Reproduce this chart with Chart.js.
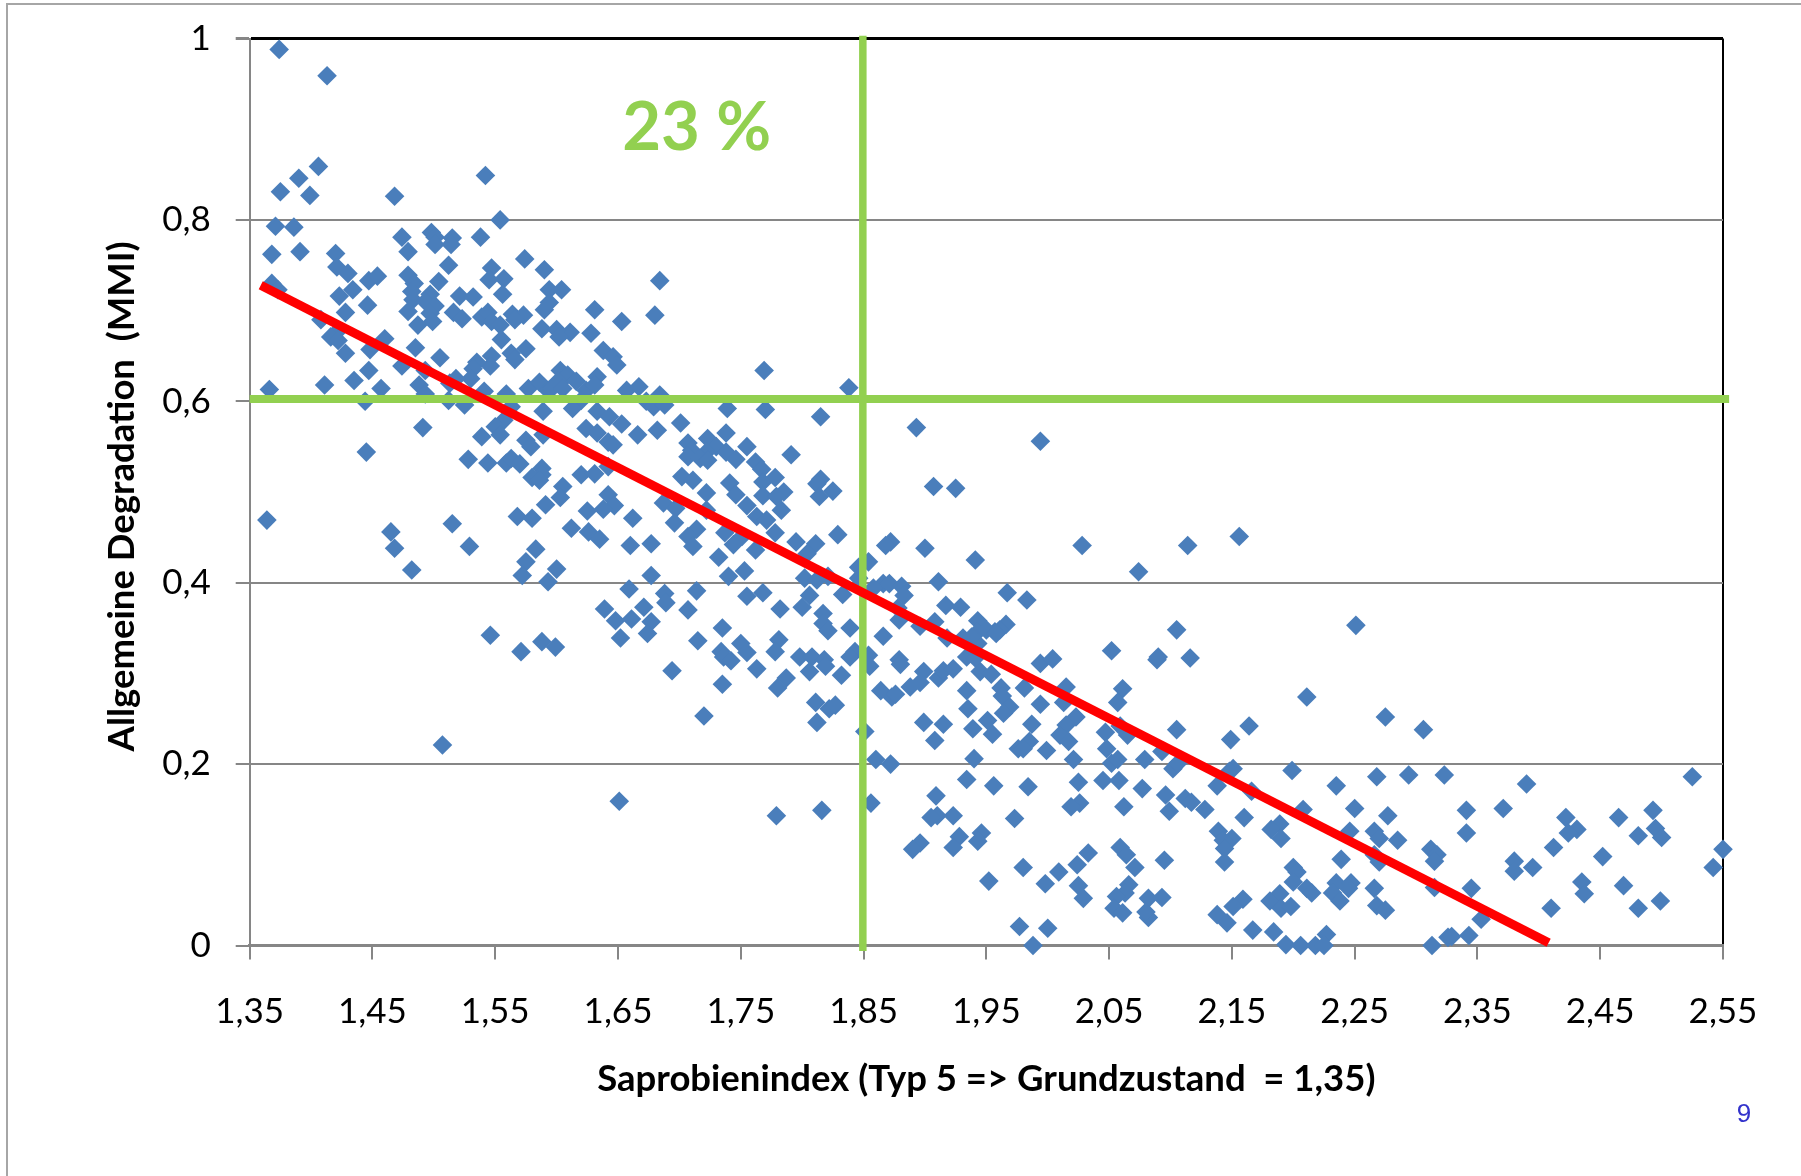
<!DOCTYPE html>
<html lang="de">
<head>
<meta charset="utf-8">
<title>Saprobienindex</title>
<script src="https://cdn.jsdelivr.net/npm/chart.js@4/dist/chart.umd.js"></script>
<style>
html,body{margin:0;padding:0;background:#fff;overflow:hidden}
#frame{position:absolute;left:6px;top:3px;width:1801px;height:1180px;border-left:2px solid #a6a6a6;border-top:2px solid #a6a6a6}
canvas{position:absolute;left:0;top:0}
</style>
</head>
<body>
<div id="frame"></div>
<canvas id="c" width="1801" height="1176"></canvas>
<script>
const xTickValues = [1.35,1.45,1.55,1.65,1.75,1.85,1.95,2.05,2.15,2.25,2.35,2.45,2.55];
const xTickLabels = ['1,35','1,45','1,55','1,65','1,75','1,85','1,95','2,05','2,15','2,25','2,35','2,45','2,55'];
const yTickValues = [0,0.2,0.4,0.6,0.8,1];
const yTickLabels = ['0','0,2','0,4','0,6','0,8','1'];
const xTitle = 'Saprobienindex (Typ 5 => Grundzustand  = 1,35)';
const yTitle = 'Allgemeine Degradation  (MMI) ';
const noteText = '23 %';
const noteX = 1.714, noteY = 0.901;
const pageNumber = '9';

const saprobien = [
1.374,1.413,1.406,1.390,1.375,1.399,1.542,1.468,1.554,1.371,
1.386,1.368,1.391,1.474,1.479,1.498,1.501,1.501,1.515,1.514,
1.538,1.420,1.421,1.430,1.447,1.454,1.434,1.423,1.446,1.428,
1.512,1.504,1.479,1.484,1.482,1.483,1.497,1.493,1.501,1.479,
1.497,1.487,1.499,1.521,1.532,1.516,1.523,1.539,1.544,1.547,
1.545,1.557,1.556,1.574,1.590,1.594,1.590,1.588,1.564,1.573,
1.566,1.547,1.554,1.555,1.563,1.575,1.566,1.547,1.546,1.535,
1.532,1.530,1.518,1.513,1.541,1.559,1.577,1.586,1.593,1.368,
1.373,1.408,1.420,1.416,1.422,1.460,1.448,1.428,1.485,1.505,
1.474,1.493,1.447,1.435,1.411,1.366,1.457,1.488,1.493,1.444,
1.512,1.525,1.563,1.589,1.557,1.550,1.554,1.539,1.491,1.445,
1.575,1.579,1.589,1.528,1.544,1.559,1.563,1.570,1.588,1.594,
1.604,1.684,1.631,1.653,1.680,1.628,1.611,1.600,1.602,1.638,
1.646,1.649,1.769,1.633,1.603,1.609,1.601,1.616,1.596,1.605,
1.624,1.631,1.657,1.667,1.684,1.673,1.679,1.688,1.739,1.770,
1.620,1.613,1.633,1.643,1.653,1.624,1.633,1.642,1.646,1.666,
1.682,1.701,1.738,1.755,1.791,1.707,1.710,1.723,1.730,1.722,
1.707,1.717,1.723,1.738,1.746,1.762,1.767,1.778,1.768,1.702,
1.711,1.741,1.746,1.722,1.755,1.768,1.785,1.779,1.783,1.763,
1.771,1.687,1.697,1.722,1.620,1.631,1.642,1.605,1.603,1.591,
1.642,1.647,1.638,1.625,1.588,1.580,1.568,1.580,1.662,1.586,
1.515,1.529,1.612,1.626,1.635,1.696,1.714,1.707,1.737,1.751,
1.744,1.711,1.660,1.677,1.583,1.575,1.600,1.572,1.593,1.732,
1.753,1.740,1.677,1.659,1.688,1.714,1.755,1.689,1.639,1.671,
1.707,1.648,1.661,1.677,1.652,1.674,1.735,1.715,1.750,1.546,
1.571,1.588,1.599,1.734,1.736,1.742,1.755,1.694,1.735,1.720,
1.838,1.815,1.893,1.815,1.812,1.825,1.814,1.907,1.925,1.778,
1.829,1.795,1.811,1.804,1.762,1.872,1.868,1.900,1.941,1.854,
1.846,1.846,1.802,1.812,1.821,1.911,1.866,1.858,1.871,1.881,
1.883,1.833,1.768,1.806,1.800,1.782,1.817,1.917,1.929,1.878,
1.879,1.908,1.896,1.943,1.943,1.817,1.821,1.839,1.781,1.866,
1.918,1.931,1.957,1.950,1.943,1.778,1.798,1.808,1.843,1.839,
1.854,1.818,1.934,1.879,
1.806,1.819,1.832,1.855,1.763,1.787,1.780,1.880,1.899,1.896,
1.911,1.915,1.923,1.945,1.954,1.888,1.864,1.873,1.876,1.934,
1.935,1.811,1.822,1.827,1.812,1.851,1.899,1.915,1.908,1.939,
1.951,1.955,1.860,1.872,1.940,1.934,1.956,1.909,1.856,1.816,
1.779,1.910,1.905,1.923,1.928,1.923,1.946,1.943,1.896,1.890,
1.952,
1.983,1.966,1.961,1.958,1.938,2.105,2.052,2.090,2.089,
2.116,1.994,2.004,1.941,1.981,2.015,1.962,1.963,2.061,2.057,
2.013,1.994,1.969,1.964,2.023,2.015,2.010,1.987,1.985,1.976,
1.980,1.999,2.017,2.047,2.048,2.065,2.059,2.105,2.093,2.021,
2.052,2.057,2.079,2.102,2.106,2.138,2.151,2.148,2.164,2.149,
2.166,1.984,2.025,2.045,2.058,2.077,2.096,2.112,2.117,2.128,
2.099,2.160,2.062,2.026,2.019,1.973,2.139,2.150,2.143,2.144,
2.144,2.059,2.064,2.033,2.024,2.071,2.095,1.980,2.009,1.998,
2.025,2.029,2.066,2.063,2.056,2.082,2.093,2.159,1.977,2.000,
1.988,2.054,2.061,2.082,2.080,
2.211,2.275,2.306,2.199,2.268,2.294,2.323,2.235,2.208,2.250,
2.277,2.189,2.182,2.190,2.246,2.266,2.270,2.285,2.239,2.266,
2.270,2.312,2.317,2.315,2.200,2.203,2.200,2.235,2.247,2.245,
2.211,2.215,2.232,2.238,2.266,2.268,2.275,2.315,2.189,2.181,
2.190,2.198,2.151,2.138,2.146,2.167,2.184,2.194,2.206,2.218,
2.227,2.225,2.313,2.326,
2.390,2.525,2.341,2.371,2.341,2.422,2.431,2.424,2.465,2.493,
2.495,2.481,2.500,2.412,2.452,2.550,2.542,2.380,2.380,2.395,
2.345,2.435,2.437,2.469,2.499,2.481,2.410,2.353,2.329,2.343,
1.507,1.651,1.364,1.465,1.468,1.482,1.994,2.028,2.074,2.114,
2.156,2.251,1.967
];

const degradation = [
.988,.959,.859,.846,.831,.827,.849,.826,.800,.793,
.792,.762,.765,.781,.765,.786,.781,.773,.780,.773,
.781,.763,.748,.741,.733,.738,.723,.716,.706,.698,
.750,.732,.739,.730,.721,.712,.718,.710,.705,.699,
.697,.684,.688,.716,.715,.698,.691,.693,.698,.747,
.734,.735,.718,.757,.745,.723,.701,.680,.696,.695,
.690,.688,.684,.668,.653,.658,.646,.650,.639,.643,
.636,.625,.625,.620,.611,.608,.614,.621,.612,.730,
.723,.690,.675,.671,.667,.669,.657,.653,.659,.648,
.639,.634,.634,.623,.618,.613,.614,.618,.608,.600,
.601,.596,.594,.589,.579,.572,.563,.561,.571,.544,
.557,.550,.563,.536,.532,.532,.537,.531,.526,.709,
.723,.733,.701,.688,.695,.675,.676,.679,.671,.656,
.649,.640,.634,.627,.634,.629,.622,.622,.614,.614,
.612,.618,.612,.616,.607,.600,.594,.596,.592,.591,
.601,.592,.589,.583,.575,.570,.565,.555,.552,.563,
.568,.576,.565,.550,.541,.554,.546,.559,.550,.544,
.539,.537,.535,.544,.536,.533,.525,.516,.511,.517,
.513,.510,.497,.499,.485,.496,.500,.495,.480,.473,
.469,.488,.482,.480,.519,.520,.528,.506,.494,.486,
.497,.485,.481,.479,.519,.516,.473,.471,.471,.513,
.465,.440,.460,.456,.448,.466,.459,.451,.455,.451,
.442,.440,.441,.443,.437,.423,.415,.408,.401,.428,
.413,.407,.408,.393,.388,.391,.385,.378,.371,.373,
.370,.358,.360,.357,.339,.344,.350,.336,.333,.342,
.324,.335,.329,.324,.318,.314,.323,.303,.288,.253,
.615,.583,.571,.514,.509,.501,.495,.506,.504,.455,
.453,.445,.443,.432,.436,.445,.441,.438,.425,.423,
.417,.405,.405,.403,.407,.401,.399,.394,.399,.396,
.386,.387,.389,.386,.373,.371,.366,.375,.373,.372,
.359,.357,.352,.358,.346,.355,.347,.350,.337,.341,
.339,.339,.346,.348,.333,.324,.318,.318,.324,.318,
.320,.315,.318,.315,
.302,.308,.298,.308,.305,.295,.284,.310,.302,.290,
.295,.303,.305,.302,.299,.285,.281,.274,.277,.281,
.261,.268,.261,.265,.246,.236,.246,.244,.226,.239,
.248,.233,.205,.200,.206,.183,.176,.165,.157,.149,
.143,.143,.141,.143,.120,.108,.124,.115,.113,.106,
.071,
.381,.354,.348,.344,.340,.348,.325,.318,.315,
.317,.311,.316,.317,.284,.285,.284,.275,.283,.268,
.268,.266,.263,.256,.252,.243,.232,.244,.225,.217,
.217,.215,.225,.235,.217,.232,.242,.238,.214,.205,
.201,.205,.205,.195,.201,.176,.195,.192,.242,.227,
.170,.175,.180,.182,.182,.173,.166,.162,.158,.150,
.148,.141,.153,.157,.153,.140,.126,.118,.116,.107,
.092,.108,.100,.102,.089,.086,.094,.086,.081,.068,
.066,.052,.067,.058,.054,.052,.053,.051,.021,.019,
0,.041,.036,.031,.037,
.274,.252,.238,.193,.186,.188,.188,.176,.150,.151,
.143,.134,.128,.118,.126,.126,.118,.116,.095,.100,
.092,.106,.100,.093,.086,.081,.070,.069,.069,.063,
.063,.058,.058,.049,.063,.044,.039,.064,.057,.049,
.041,.043,.043,.034,.025,.017,.015,.001,0,0,
.012,0,0,.009,
.178,.186,.149,.151,.124,.141,.128,.124,.141,.149,
.129,.121,.119,.108,.098,.106,.086,.093,.082,.086,
.063,.070,.057,.066,.049,.041,.041,.029,.010,.011,
.221,.159,.469,.456,.438,.414,.556,.441,.412,.441,
.451,.353,.389
];

const trendX = [1.359, 2.408];
const trendY = [0.728, 0.003];
const limitHX = [1.35, 2.555];
const limitHY = [0.6025, 0.6025];
const limitVX = [1.8494, 1.8494];
const limitVY = [-0.006, 1.003];

const toPts = (xs, ys) => xs.map((x, i) => ({x, y: ys[i]}));
const lineSet = (xs, ys, color, w) => ({
  type: 'scatter', data: toPts(xs, ys), showLine: true, pointRadius: 0,
  borderColor: color, backgroundColor: color, borderWidth: w, clip: false, borderCapStyle: 'butt'
});
const sameFont = 'Lato, Carlito, "Open Sans", sans-serif';

const annotate = {
  id: 'annotate',
  afterDatasetsDraw(chart) {
    const {ctx, scales} = chart;
    ctx.save();
    ctx.textAlign = 'center';
    ctx.textBaseline = 'middle';
    ctx.fillStyle = '#92D050';
    ctx.font = 'bold 67px ' + sameFont;
    ctx.fillText(noteText, scales.x.getPixelForValue(noteX), scales.y.getPixelForValue(noteY));
    ctx.fillStyle = '#3333CC';
    ctx.font = '26px "Liberation Sans", sans-serif';
    ctx.fillText(pageNumber, 1744, 1115);
    ctx.restore();
  }
};

new Chart(document.getElementById('c'), {
  type: 'scatter',
  data: {datasets: [
    lineSet(trendX, trendY, '#FF0000', 9),
    lineSet(limitHX, limitHY, '#92D050', 8),
    lineSet(limitVX, limitVY, '#92D050', 7.5),
    {data: toPts(saprobien, degradation), pointStyle: 'rectRot', pointRadius: 9.8, pointHoverRadius: 9.8,
     backgroundColor: '#4A7EBB', borderColor: '#4A7EBB', borderWidth: 0, clip: false}
  ]},
  plugins: [annotate],
  options: {
    responsive: false,
    animation: false,
    events: [],
    layout: {padding: {left: 0, top: 38.5, right: 78, bottom: 0}},
    plugins: {legend: {display: false}, tooltip: {enabled: false}, title: {display: false}},
    scales: {
      x: {
        type: 'linear', min: 1.35, max: 2.55,
        afterFit(s) { s.height = 230.5; s.paddingLeft = 0; s.paddingRight = 0; },
        afterBuildTicks(s) { s.ticks = xTickValues.map(value => ({value})); },
        border: {color: '#868686', width: 3},
        grid: {
          drawTicks: true, tickLength: 14, tickColor: '#868686', tickWidth: 2, lineWidth: 2,
          color: ctx => (ctx.tick && ctx.tick.value === 2.55) ? '#000000' : 'rgba(0,0,0,0)'
        },
        ticks: {
          autoSkip: false, maxRotation: 0, padding: 31, color: '#000',
          font: {family: sameFont, size: 35},
          callback: (v, i) => xTickLabels[i]
        },
        title: {display: true, text: xTitle, color: '#000', font: {family: sameFont, size: 36.5, weight: 'bold'}, padding: {top: 0, bottom: 75}}
      },
      y: {
        type: 'linear', min: 0, max: 1,
        afterFit(s) { s.width = 249.7; s.paddingTop = 0; s.paddingBottom = 0; },
        afterBuildTicks(s) { s.ticks = yTickValues.map(value => ({value})); },
        border: {color: '#868686', width: 2},
        grid: {
          drawTicks: true, tickLength: 14, tickColor: '#868686',
          color: ctx => (ctx.tick && ctx.tick.value === 1) ? '#000000' : '#868686',
          lineWidth: ctx => (ctx.tick && ctx.tick.value === 1) ? 3 : 2
        },
        ticks: {
          autoSkip: false, padding: 25, color: '#000',
          font: {family: sameFont, size: 35},
          callback: (v, i) => yTickLabels[i]
        },
        title: {display: true, text: yTitle, color: '#000', font: {family: sameFont, size: 36.5, weight: 'bold'}, padding: {top: 100, bottom: 0}}
      }
    }
  }
});
</script>
</body>
</html>
